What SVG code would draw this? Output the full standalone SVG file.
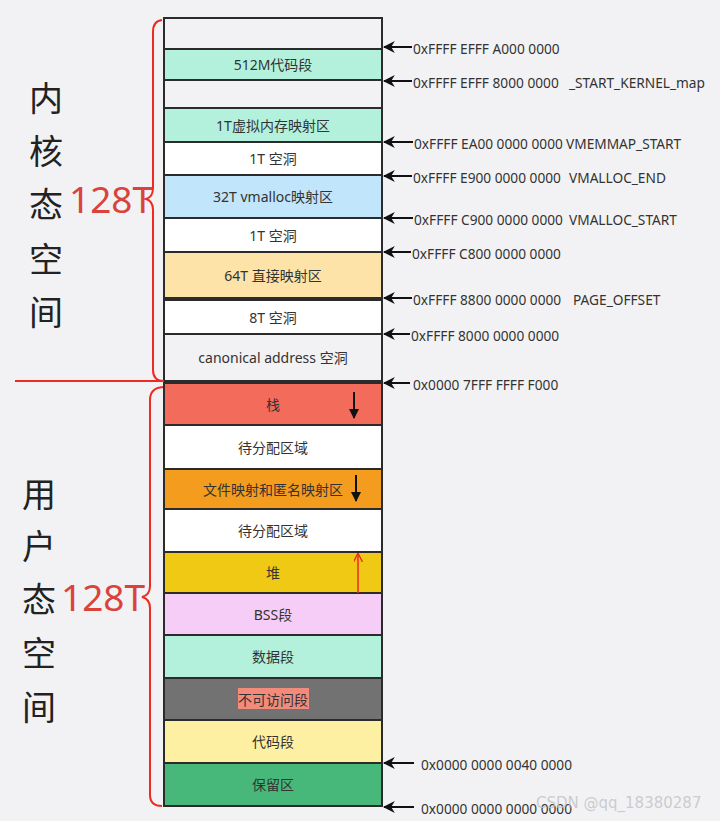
<svg xmlns="http://www.w3.org/2000/svg" width="720" height="821" viewBox="0 0 720 821">
<defs>
<style>
.box{stroke:#2b2b2b;stroke-width:2}
.lbl{font-family:"Noto Sans","Noto Sans CJK SC",sans-serif;font-size:14px;fill:#333;text-anchor:middle;dominant-baseline:central}
.addr{font-family:"Noto Sans","Noto Sans CJK SC",sans-serif;font-size:13.7px;fill:#333;dominant-baseline:central}
.big{font-family:"Noto Sans CJK SC","Noto Sans",sans-serif;font-size:34px;fill:#222;text-anchor:middle;dominant-baseline:central}
.red{font-family:"Noto Sans","Noto Sans CJK SC",sans-serif;font-size:37px;fill:#d9433b;dominant-baseline:central}
.ptr{stroke:#111;stroke-width:2;fill:none;marker-end:url(#ah)}
.brace{stroke:#f02a20;stroke-width:2;fill:none}
</style>
<marker id="ah" viewBox="0 0 10 10" refX="9" refY="5" markerWidth="6" markerHeight="6" orient="auto" markerUnits="strokeWidth">
<path d="M0,0 L10,5 L0,10 L3,5 Z" fill="#111"/>
</marker>
<marker id="ahd" viewBox="0 0 10 10" refX="9" refY="5" markerWidth="5" markerHeight="5" orient="auto" markerUnits="strokeWidth">
<path d="M0,0 L10,5 L0,10 Z" fill="#111"/>
</marker>
<marker id="ahr" viewBox="0 0 10 10" refX="9" refY="5" markerWidth="6" markerHeight="6" orient="auto" markerUnits="strokeWidth">
<path d="M0,0 L10,5 L0,10" fill="none" stroke="#f02a20" stroke-width="1.5"/>
</marker>
</defs>
<rect x="0" y="0" width="720" height="821" fill="#f2f2f4"/>

<g id="k-top"><rect class="box" x="164" y="18" width="218" height="31" fill="#f2f2f4"/></g>
<g id="k-512m"><rect class="box" x="164" y="49" width="218" height="31" fill="#b3f1dc"/><text class="lbl" x="273" y="64.5">512M代码段</text></g>
<g id="k-gap"><rect class="box" x="164" y="80" width="218" height="28" fill="#f2f2f4"/></g>
<g id="k-vmemmap"><rect class="box" x="164" y="108" width="218" height="34" fill="#b3f1dc"/><text class="lbl" x="273" y="125">1T虚拟内存映射区</text></g>
<g id="k-hole1"><rect class="box" x="164" y="142" width="218" height="33" fill="#ffffff"/><text class="lbl" x="273" y="158.5">1T 空洞</text></g>
<g id="k-vmalloc"><rect class="box" x="164" y="175" width="218" height="43" fill="#c1e5fa"/><text class="lbl" x="273" y="196.5">32T vmalloc映射区</text></g>
<g id="k-hole2"><rect class="box" x="164" y="218" width="218" height="34" fill="#ffffff"/><text class="lbl" x="273" y="235">1T 空洞</text></g>
<g id="k-direct"><rect class="box" x="164" y="252" width="218" height="46" fill="#fde3a7"/><text class="lbl" x="273" y="275">64T 直接映射区</text></g>
<g id="k-hole8"><rect class="box" x="164" y="300" width="218" height="34" fill="#ffffff"/><text class="lbl" x="273" y="317">8T 空洞</text></g>
<g id="k-canon"><rect class="box" x="164" y="334" width="218" height="47" fill="#f2f2f4"/><text class="lbl" x="273" y="357.5">canonical address 空洞</text></g>

<g id="u-stack"><rect class="box" x="164" y="383" width="218" height="42" fill="#f36b5b"/><text class="lbl" x="273" y="404">栈</text></g>
<g id="u-free1"><rect class="box" x="164" y="425" width="218" height="44" fill="#ffffff"/><text class="lbl" x="273" y="447">待分配区域</text></g>
<g id="u-mmap"><rect class="box" x="164" y="469" width="218" height="40" fill="#f39c1d"/><text class="lbl" x="273" y="489">文件映射和匿名映射区</text></g>
<g id="u-free2"><rect class="box" x="164" y="509" width="218" height="43" fill="#ffffff"/><text class="lbl" x="273" y="530.5">待分配区域</text></g>
<g id="u-heap"><rect class="box" x="164" y="552" width="218" height="41" fill="#f0c915"/><text class="lbl" x="273" y="572.5">堆</text></g>
<g id="u-bss"><rect class="box" x="164" y="593" width="218" height="42" fill="#f5cdf7"/><text class="lbl" x="273" y="614">BSS段</text></g>
<g id="u-data"><rect class="box" x="164" y="635" width="218" height="43" fill="#b3f1dc"/><text class="lbl" x="273" y="656.5">数据段</text></g>
<g id="u-noaccess"><rect class="box" x="164" y="678" width="218" height="42" fill="#727272"/><rect x="238" y="688" width="71" height="21" fill="#f28b7c"/><text class="lbl" x="273" y="699">不可访问段</text></g>
<g id="u-text"><rect class="box" x="164" y="720" width="218" height="43" fill="#fdf0a2"/><text class="lbl" x="273" y="741.5">代码段</text></g>
<g id="u-reserved"><rect class="box" x="164" y="763" width="218" height="43" fill="#47b87a"/><text class="lbl" x="273" y="784.5">保留区</text></g>

<g id="side-labels">
<text class="big" x="46" y="96">内</text>
<text class="big" x="46" y="149">核</text>
<text class="big" x="46" y="202">态</text>
<text class="big" x="46" y="257">空</text>
<text class="big" x="46" y="310">间</text>
<text class="red" x="69" y="198">128T</text>
<text class="big" x="39" y="492">用</text>
<text class="big" x="39" y="544">户</text>
<text class="big" x="39" y="597">态</text>
<text class="big" x="39" y="651">空</text>
<text class="big" x="39" y="705">间</text>
<text class="red" x="61" y="596">128T</text>
</g>

<g id="connectors">
<path class="brace" d="M162,20 Q153,21 153,32 L153,188 Q153,197 146,199 Q153,201 153,210 L153,370 Q153,381 164,381"/>
<path class="brace" d="M15,381 L164,381"/>
<path class="brace" d="M163,387 Q150,388 150,400 L150,586 Q150,595 142,597 Q150,599 150,608 L150,795 Q150,806 162,806"/>
<line x1="354" y1="392" x2="354" y2="418" stroke="#111" stroke-width="2" marker-end="url(#ahd)"/>
<line x1="356" y1="475" x2="356" y2="501" stroke="#111" stroke-width="2" marker-end="url(#ahd)"/>
<line x1="358" y1="593" x2="358" y2="554" stroke="#f02a20" stroke-width="1.5" marker-end="url(#ahr)"/>
<line class="ptr" x1="412" y1="47" x2="384" y2="47"/>
<line class="ptr" x1="412" y1="81" x2="384" y2="81"/>
<line class="ptr" x1="413" y1="142" x2="384" y2="142"/>
<line class="ptr" x1="412" y1="176" x2="384" y2="176"/>
<line class="ptr" x1="413" y1="218" x2="384" y2="218"/>
<line class="ptr" x1="411" y1="252" x2="384" y2="252"/>
<line class="ptr" x1="412" y1="298" x2="384" y2="298"/>
<line class="ptr" x1="410" y1="334" x2="384" y2="334"/>
<line class="ptr" x1="410" y1="383" x2="384" y2="383"/>
<line class="ptr" x1="414" y1="763" x2="384" y2="763"/>
<line class="ptr" x1="414" y1="807" x2="384" y2="807"/>
</g>

<g id="addresses">
<text class="addr" x="413" y="48">0xFFFF EFFF A000 0000</text>
<text class="addr" x="413" y="82">0xFFFF EFFF 8000 0000 <tspan x="569">_START_KERNEL_map</tspan></text>
<text class="addr" x="414" y="143">0xFFFF EA00 0000 0000 <tspan x="566">VMEMMAP_START</tspan></text>
<text class="addr" x="413" y="177">0xFFFF E900 0000 0000 <tspan x="569">VMALLOC_END</tspan></text>
<text class="addr" x="414" y="219">0xFFFF C900 0000 0000 <tspan x="569">VMALLOC_START</tspan></text>
<text class="addr" x="412" y="253">0xFFFF C800 0000 0000</text>
<text class="addr" x="413" y="299">0xFFFF 8800 0000 0000 <tspan x="573">PAGE_OFFSET</tspan></text>
<text class="addr" x="411" y="335">0xFFFF 8000 0000 0000</text>
<text class="addr" x="413" y="384">0x0000 7FFF FFFF F000</text>
<text class="addr" x="421" y="764">0x0000 0000 0040 0000</text>
<text class="addr" x="421" y="808">0x0000 0000 0000 0000</text>
<text x="536" y="803" font-family="Verdana,'DejaVu Sans',sans-serif" font-size="15" fill="#c4c4c8" fill-opacity="0.85" dominant-baseline="central">CSDN @qq_18380287</text>
</g>
</svg>
